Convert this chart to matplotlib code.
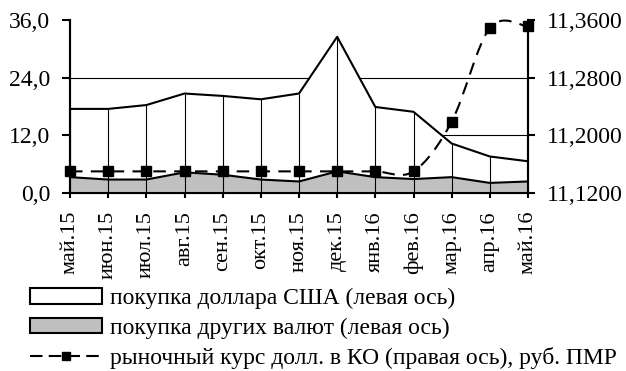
import numpy as np
import matplotlib
matplotlib.use("Agg")
import matplotlib.pyplot as plt
from matplotlib.patches import Patch, PathPatch
from matplotlib.lines import Line2D
from matplotlib.path import Path

months = ["май.15", "июн.15", "июл.15", "авг.15", "сен.15", "окт.15", "ноя.15",
          "дек.15", "янв.16", "фев.16", "мар.16", "апр.16", "май.16"]
usd_purchase = [17.5, 17.5, 18.3, 20.7, 20.2, 19.5, 20.7, 32.5, 17.9, 16.9, 10.3, 7.6, 6.6]
other_purchase = [3.3, 2.8, 2.8, 4.3, 3.8, 2.8, 2.4, 4.5, 3.3, 2.9, 3.3, 2.1, 2.4]
usd_rate = [11.150, 11.150, 11.150, 11.150, 11.150, 11.150, 11.150,
            11.150, 11.150, 11.150, 11.219, 11.349, 11.351]
left_ticks = [0, 12, 24, 36]
right_ticks = [11.12, 11.20, 11.28, 11.36]
legend_labels = ["покупка доллара США (левая ось)",
                 "покупка других валют (левая ось)",
                 "рыночный курс долл. в КО (правая ось), руб. ПМР"]

plt.rcParams["font.family"] = ["Liberation Serif", "DejaVu Serif"]
YFS = 17
XFS = 16
LFS = 17
PX = 0.72  # points per pixel at 100 dpi

fig = plt.figure(figsize=(6.26, 3.71), dpi=100)
ax = fig.add_axes([70 / 626, 1 - 193 / 371, 458 / 626, 173 / 371])
x = np.arange(len(months))

# horizontal grid lines (only shown where the white area leaves them visible)
for t in left_ticks[1:-1]:
    ax.axhline(t, color="black", lw=0.8, zorder=1)

ax.fill_between(x, 0, usd_purchase, facecolor="white", edgecolor="none", zorder=2)
ax.plot(x, usd_purchase, color="black", lw=1.5, zorder=5)
ax.fill_between(x, 0, other_purchase, facecolor="#c0c0c0", edgecolor="none", zorder=3)
ax.plot(x, other_purchase, color="black", lw=1.5, zorder=5)
ax.vlines(x, 0, usd_purchase, color="black", lw=0.8, zorder=4)

ax.set_xlim(0, len(months) - 1)
ax.set_ylim(0, 36)
ax.set_yticks(left_ticks)
ax.set_yticklabels([f"{t:.1f}".replace(".", ",") for t in left_ticks], fontsize=YFS)
ax.set_xticks(x)
ax.set_xticklabels(months, rotation=90, fontsize=XFS)
ax.tick_params(axis="y", direction="out", length=8 * PX, width=1.5,
               pad=12 * PX, colors="black")
ax.tick_params(axis="x", direction="inout", length=10 * PX, width=1.5,
               pad=13 * PX, colors="black")
for s in ["left", "bottom", "right"]:
    ax.spines[s].set_linewidth(1.5)
ax.spines["top"].set_visible(False)

ax2 = ax.twinx()
ax2.set_ylim(11.12, 11.36)
ax2.set_yticks(right_ticks)
ax2.set_yticklabels([f"{t:.4f}".replace(".", ",") for t in right_ticks], fontsize=YFS)
ax2.tick_params(axis="y", direction="out", length=7 * PX, width=1.5, pad=12 * PX)
for s in ["left", "bottom", "right"]:
    ax2.spines[s].set_linewidth(1.5)
ax2.spines["top"].set_visible(False)

# smoothed dashed line through the exchange-rate points (cubic Bezier segments)
px = np.array(x, dtype=float)
py = np.array(usd_rate, dtype=float)
n = len(px)
verts = [(px[0], py[0])]
codes = [Path.MOVETO]
for i in range(n - 1):
    x0, y0 = (px[i - 1], py[i - 1]) if i > 0 else (px[i], py[i])
    x3, y3 = (px[i + 2], py[i + 2]) if i + 2 < n else (px[i + 1], py[i + 1])
    c1 = (px[i] + (px[i + 1] - x0) / 6, py[i] + (py[i + 1] - y0) / 6)
    c2 = (px[i + 1] - (x3 - px[i]) / 6, py[i + 1] - (y3 - py[i]) / 6)
    verts += [c1, c2, (px[i + 1], py[i + 1])]
    codes += [Path.CURVE4] * 3
curve = PathPatch(Path(verts, codes), facecolor="none", edgecolor="black",
                  lw=1.5, linestyle=(0, (6, 4)), zorder=6, clip_on=False)
ax2.add_patch(curve)
ax2.plot(px, py, linestyle="none", marker="s", markersize=7, color="black",
         zorder=7, clip_on=False)

handles = [Patch(facecolor="white", edgecolor="black", lw=1.5),
           Patch(facecolor="#c0c0c0", edgecolor="black", lw=1.5),
           Line2D([], [], color="black", lw=1.5, linestyle=(0, (6, 3)),
                  marker="s", markersize=6)]
fig.legend(handles, legend_labels, loc="upper left",
           bbox_to_anchor=(30 / 626, 1 - 288 / 371), frameon=False,
           fontsize=LFS, handlelength=3.05, handleheight=0.64,
           handletextpad=0.33, labelspacing=0.36, borderaxespad=0,
           borderpad=0)

fig.savefig("out.png", dpi=100)
